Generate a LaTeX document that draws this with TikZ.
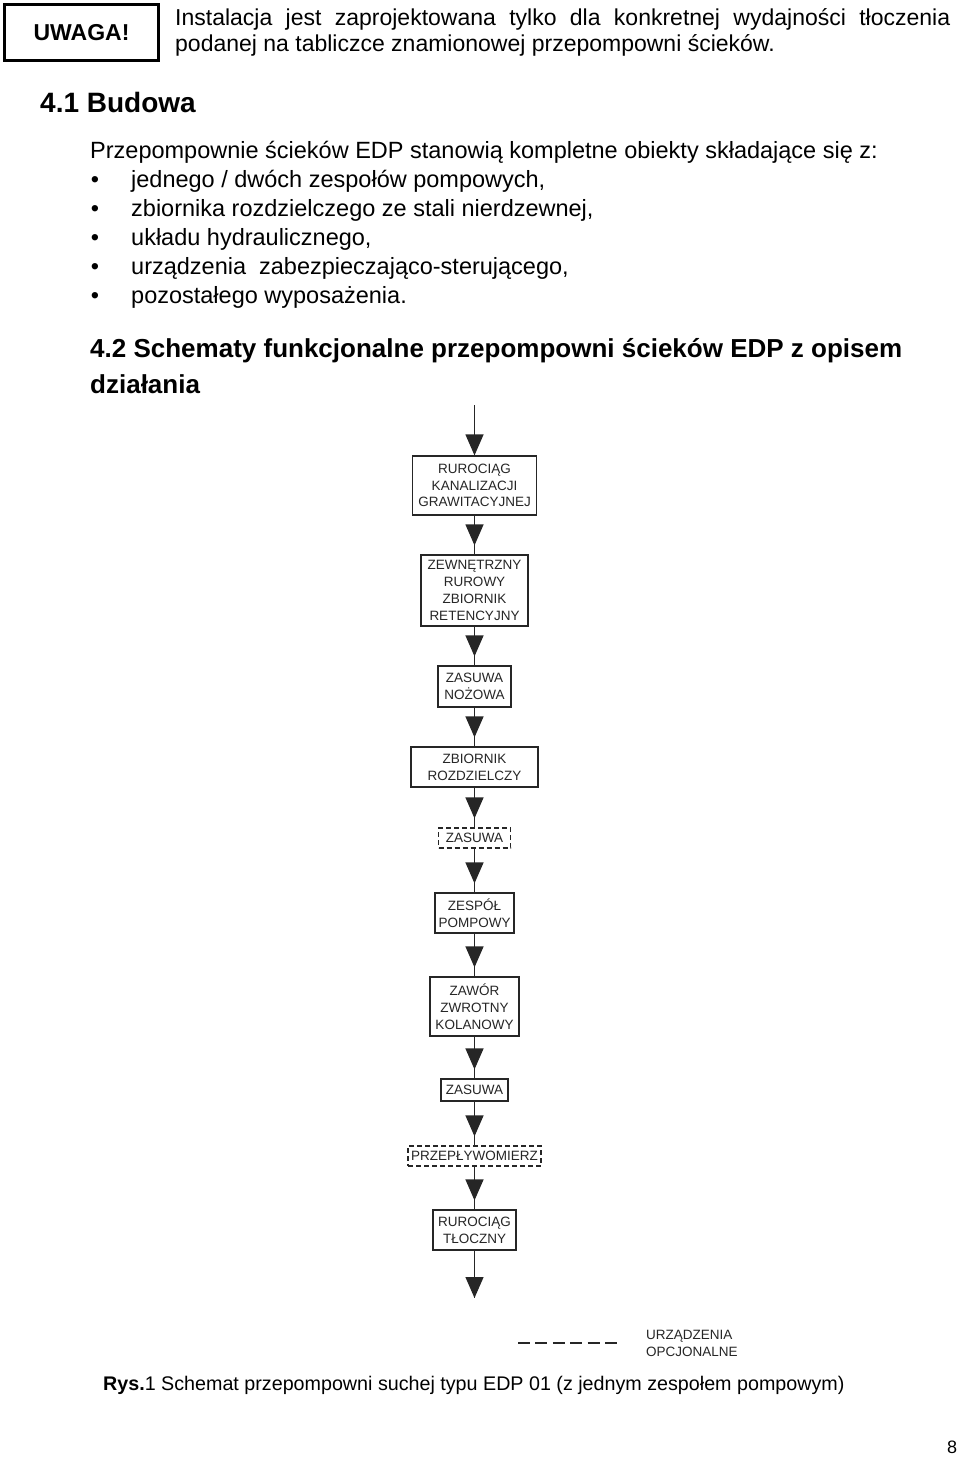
\documentclass[tikz,border=0pt]{standalone}
\usepackage{fontspec}
\setmainfont{Liberation Sans}
\usetikzlibrary{arrows.meta}
\begin{document}
\begin{tikzpicture}[x=1pt,y=-1pt,
  txt/.style={inner sep=0pt, anchor=base west, font=\fontsize{23.5}{28}\selectfont},
  bul/.style={inner sep=0pt, anchor=base, font=\fontsize{23.5}{28}\selectfont},
  box/.style={draw=black!85, line width=1.2pt, inner sep=0pt, align=center, text=black!85,
              font=\fontsize{13.5}{16.8}\selectfont},
  dbox/.style={box, dash pattern=on 5pt off 3pt},
  conn/.style={draw=black!85, line width=1.2pt,
               postaction={draw=black!85, fill=black!85, -{Triangle[length=21pt 0 0,width=18pt 0 0]}, shorten >=#1}},
  conn/.default=9pt,
  legtxt/.style={inner sep=0pt, anchor=base west, align=left, text=black!85,
              font=\fontsize{13.5}{16.8}\selectfont}
]
\useasboundingbox[fill=white] (0,0) rectangle (960,1461);

% header warning
\node[draw, line width=3pt, minimum width=154pt, minimum height=56pt, inner sep=0pt,
      font=\bfseries\fontsize{23}{27}\selectfont] (uw) at (81.5,32.5) {UWAGA!};
\node[txt, font=\fontsize{23}{26}\selectfont] (i1) at (175,26)
  {\makebox[775pt][s]{Instalacja jest zaprojektowana tylko dla konkretnej wydajności tłoczenia}};
\node[txt, font=\fontsize{23}{26}\selectfont] (i2) at (175,52)
  {podanej na tabliczce znamionowej przepompowni ścieków.};

% section 4.1
\node[txt, font=\bfseries\fontsize{28}{32}\selectfont] (h1) at (40,113) {4.1 Budowa};
\node[txt] (p0) at (90,158) {Przepompownie ścieków EDP stanowią kompletne obiekty składające się z:};
\node[bul] (u1) at (95,187) {•};
\node[bul] (u2) at (95,216) {•};
\node[bul] (u3) at (95,245) {•};
\node[bul] (u4) at (95,274) {•};
\node[bul] (u5) at (95,303) {•};
\node[txt] (l1) at (131,187) {jednego / dwóch zespołów pompowych,};
\node[txt] (l2) at (131,216) {zbiornika rozdzielczego ze stali nierdzewnej,};
\node[txt] (l3) at (131,245) {układu hydraulicznego,};
\node[txt] (l4) at (131,274) {urządzenia\ \ zabezpieczająco-sterującego,};
\node[txt] (l5) at (131,303) {pozostałego wyposażenia.};

% section 4.2
\node[txt, font=\bfseries\fontsize{26}{30}\selectfont] (h2) at (90,357)
  {4.2 Schematy funkcjonalne przepompowni ścieków EDP z opisem};
\node[txt, font=\bfseries\fontsize{26}{30}\selectfont] (h2b) at (90,393) {działania};

% flow chart
\coordinate (top) at (474.5,405);
\node[box, minimum width=124pt, minimum height=59pt] (b1) at (474.5,485.5) {RUROCIĄG\\KANALIZACJI\\GRAWITACYJNEJ};
\node[box, minimum width=107pt, minimum height=71pt] (b2) at (474.5,590.5) {ZEWNĘTRZNY\\RUROWY\\ZBIORNIK\\RETENCYJNY};
\node[box, minimum width=73pt, minimum height=41pt] (b3) at (474.5,686.5) {ZASUWA\\NOŻOWA};
\node[box, minimum width=127pt, minimum height=40pt] (b4) at (474.5,767) {ZBIORNIK\\ROZDZIELCZY};
\node[dbox, minimum width=72pt, minimum height=20pt] (b5) at (474.5,838) {ZASUWA};
\node[box, minimum width=79pt, minimum height=40pt] (b6) at (474.5,913) {ZESPÓŁ\\POMPOWY};
\node[box, minimum width=89pt, minimum height=59pt] (b7) at (474.5,1006.5) {ZAWÓR\\ZWROTNY\\KOLANOWY};
\node[box, minimum width=67pt, minimum height=22pt] (b8) at (474.5,1090) {ZASUWA};
\node[dbox, minimum width=133pt, minimum height=20pt] (b9) at (474.5,1156) {PRZEPŁYWOMIERZ};
\node[box, minimum width=83pt, minimum height=40pt] (b10) at (474.5,1230) {RUROCIĄG\\TŁOCZNY};
\coordinate (bot) at (474.5,1298);

\draw[conn=0pt] (top) -- (b1.north);
\draw[conn] (b1.south) -- (b2.north);
\draw[conn] (b2.south) -- (b3.north);
\draw[conn] (b3.south) -- (b4.north);
\draw[conn] (b4.south) -- (b5.north);
\draw[conn] (b5.south) -- (b6.north);
\draw[conn] (b6.south) -- (b7.north);
\draw[conn] (b7.south) -- (b8.north);
\draw[conn] (b8.south) -- (b9.north);
\draw[conn] (b9.south) -- (b10.north);
\draw[conn=0pt] (b10.south) -- (bot);

% legend
\coordinate (la) at (518,1343);
\coordinate (lb) at (617,1343);
\draw[draw=black!85, line width=1.2pt, dash pattern=on 12pt off 5.4pt] (la) -- (lb);
\node[legtxt] (lt) at (646,1356) {URZĄDZENIA\\OPCJONALNE};

% caption and page number
\node[txt, font=\fontsize{19.7}{23}\selectfont] (cap) at (103,1390)
  {\textbf{Rys.}1 Schemat przepompowni suchej typu EDP 01 (z jednym zespołem pompowym)};
\node[inner sep=0pt, anchor=base, font=\fontsize{18}{20}\selectfont] (pg) at (952,1453) {8};
\end{tikzpicture}
\end{document}
